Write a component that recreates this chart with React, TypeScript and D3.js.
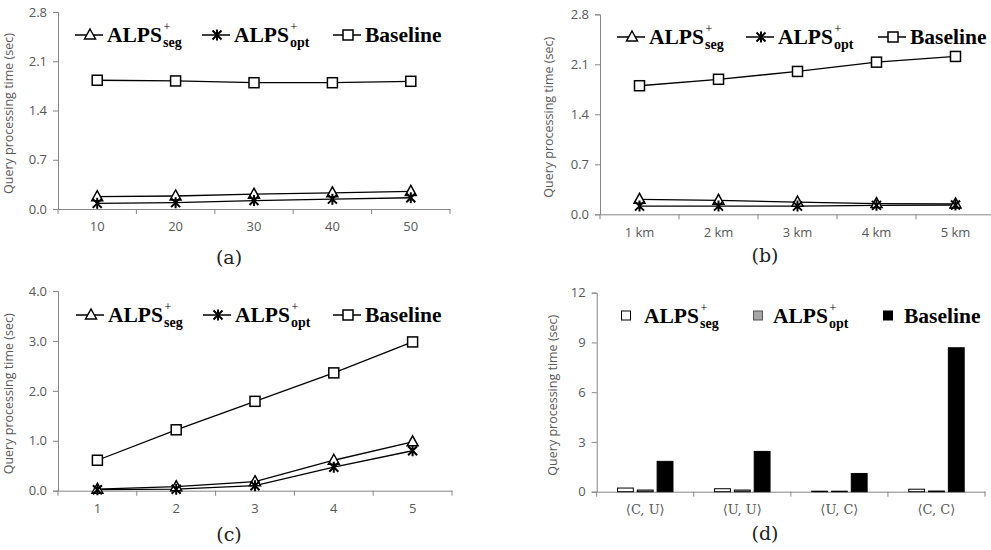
import * as d3 from 'd3'
import { useEffect, useRef } from 'react'

// panel (a): number of objects
const catsA = ['10', '20', '30', '40', '50']
const segA = [0.175, 0.185, 0.21, 0.23, 0.25]
const optA = [0.08, 0.09, 0.12, 0.14, 0.16]
const baseA = [1.83, 1.82, 1.795, 1.795, 1.815]
const ticksA = [0, 0.7, 1.4, 2.1, 2.8]

// panel (b): distance
const catsB = ['1 km', '2 km', '3 km', '4 km', '5 km']
const segB = [0.21, 0.196, 0.17, 0.15, 0.145]
const optB = [0.115, 0.115, 0.115, 0.125, 0.13]
const baseB = [1.8, 1.89, 2.0, 2.13, 2.21]
const ticksB = [0, 0.7, 1.4, 2.1, 2.8]

// panel (c)
const catsC = ['1', '2', '3', '4', '5']
const segC = [0.03, 0.08, 0.18, 0.61, 0.98]
const optC = [0.02, 0.03, 0.1, 0.47, 0.8]
const baseC = [0.61, 1.22, 1.79, 2.36, 2.98]
const ticksC = [0, 1, 2, 3, 4]

// panel (d): distributions
const catsD = ['\u27E8C, U\u27E9', '\u27E8U, U\u27E9', '\u27E8U, C\u27E9', '\u27E8C, C\u27E9']
const segD = [0.22, 0.18, 0.03, 0.15]
const optD = [0.1, 0.1, 0.03, 0.04]
const baseD = [1.83, 2.43, 1.1, 8.68]
const ticksD = [0, 3, 6, 9, 12]

const axisColor = '#868686'
const labelColor = '#595959'
const tickFont = '"Open Sans", sans-serif'
const legendFont = '"Liberation Serif", serif'

type Sel = d3.Selection<SVGGElement, unknown, null, undefined>

function drawAxes(g: Sel, cats: string[], ticks: number[], fmt: (v: number) => string,
  x0: number, x1: number, yTop: number, yBot: number, labelX: number, catFont = tickFont) {
  const x = d3.scaleBand<string>().domain(cats).range([x0, x1])
  const y = d3.scaleLinear().domain([ticks[0], ticks[ticks.length - 1]]).range([yBot, yTop])

  const yAxis = g.append('g').attr('transform', `translate(${x0},0)`)
    .call(d3.axisLeft(y).tickValues(ticks).tickFormat(d => fmt(+d)).tickSizeOuter(0).tickSize(5).tickPadding(6))
  const xAxis = g.append('g').attr('transform', `translate(0,${yBot})`)
    .call(d3.axisBottom(x).tickSize(0).tickPadding(13))
  // ticks at band boundaries
  const edges = cats.map(c => x(c) as number).concat([x1])
  xAxis.selectAll('line.edge').data(edges).join('line').attr('class', 'edge')
    .attr('x1', d => d).attr('x2', d => d).attr('y1', 0).attr('y2', 5)
  for (const a of [yAxis, xAxis]) {
    a.selectAll('path.domain').attr('stroke', axisColor)
    a.selectAll('line').attr('stroke', axisColor)
    a.selectAll('text').attr('fill', labelColor).attr('font-family', tickFont).attr('font-size', 13)
  }
  xAxis.selectAll('.tick text').attr('font-family', catFont)
  const yc = (yTop + yBot) / 2 + 3
  g.append('text').attr('transform', `translate(${labelX},${yc}) rotate(-90)`)
    .attr('text-anchor', 'middle').attr('font-family', tickFont).attr('font-size', 12.5)
    .attr('fill', labelColor).text('Query processing time (sec)')
  return { x, y }
}

function marker(g: Sel, kind: string, cx: number, cy: number) {
  if (kind === 'tri') {
    g.append('path').attr('d', `M${cx},${cy - 6}L${cx + 5.5},${cy + 4}L${cx - 5.5},${cy + 4}Z`)
      .attr('fill', 'white').attr('stroke', 'black').attr('stroke-width', 1.5)
  } else if (kind === 'sq') {
    g.append('rect').attr('x', cx - 5).attr('y', cy - 5).attr('width', 10).attr('height', 10)
      .attr('fill', 'white').attr('stroke', 'black').attr('stroke-width', 1.5)
  } else {
    const r = 4.5
    g.append('path').attr('d', `M${cx - r},${cy - r}L${cx + r},${cy + r}M${cx + r},${cy - r}L${cx - r},${cy + r}M${cx},${cy - r - 1}L${cx},${cy + r + 1}`)
      .attr('stroke', 'black').attr('stroke-width', 2).attr('fill', 'none')
  }
}

// main label with stacked "+" superscript and subscript
function legendText(g: Sel, tx: number, ty: number, main: string, sub?: string) {
  const t = g.append('text').attr('x', tx).attr('y', ty).attr('font-family', legendFont)
    .attr('font-weight', 'bold').attr('font-size', 21.5).attr('fill', 'black').text(main)
  if (!sub) return
  const w = (t.node() as SVGTextElement).getComputedTextLength()
  g.append('text').attr('x', tx + w + 1.5).attr('y', ty - 11).attr('font-family', legendFont)
    .attr('font-size', 12).text('+')
  g.append('text').attr('x', tx + w + 1).attr('y', ty + 5).attr('font-family', legendFont)
    .attr('font-weight', 'bold').attr('font-size', 14).text(sub)
}

function drawLinePanel(g: Sel, cats: string[], seg: number[], opt: number[], base: number[],
  ticks: number[], fmt: (v: number) => string, x0: number, x1: number, yTop: number, yBot: number,
  labelX: number, legendX: number[], legendY: number) {
  const { x, y } = drawAxes(g, cats, ticks, fmt, x0, x1, yTop, yBot, labelX)
  const cx = (c: string) => (x(c) as number) + x.bandwidth() / 2
  const line = d3.line<number>().x((_, i) => cx(cats[i])).y(d => y(d))
  const series = [{ v: base, k: 'sq' }, { v: seg, k: 'tri' }, { v: opt, k: 'star' }]
  for (const s of series) {
    g.append('path').datum(s.v).attr('d', line).attr('fill', 'none').attr('stroke', 'black').attr('stroke-width', 1.3)
  }
  for (const s of series) s.v.forEach((v, i) => marker(g, s.k, cx(cats[i]), y(v)))

  const items = [{ k: 'tri', m: 'ALPS', s: 'seg' }, { k: 'star', m: 'ALPS', s: 'opt' }, { k: 'sq', m: 'Baseline' }]
  items.forEach((it, i) => {
    const lx = legendX[i]
    const ly = legendY - 7
    g.append('line').attr('x1', lx).attr('x2', lx + 28).attr('y1', ly).attr('y2', ly).attr('stroke', 'black').attr('stroke-width', 1.5)
    marker(g, it.k, lx + 15, ly)
    legendText(g, lx + 32, legendY, it.m, it.s)
  })
}

function drawBarPanel(g: Sel) {
  const x0 = 596.7, x1 = 985, yTop = 292.7, yBot = 491.7
  const { x, y } = drawAxes(g, catsD, ticksD, d3.format('d'), x0, x1, yTop, yBot, 557,
    '"DejaVu Serif", serif')
  const inner = d3.scaleBand<string>().domain(['seg', 'opt', 'base']).range([0, x.bandwidth()])
    .paddingInner(0.2).paddingOuter(1.05)
  const series = [{ k: 'seg', v: segD, fill: 'white' }, { k: 'opt', v: optD, fill: '#a6a6a6' }, { k: 'base', v: baseD, fill: 'black' }]
  for (const s of series) {
    g.append('g').selectAll('rect').data(s.v).join('rect')
      .attr('x', (_, i) => (x(catsD[i]) as number) + (inner(s.k) as number))
      .attr('width', inner.bandwidth())
      .attr('y', d => y(d)).attr('height', d => yBot - y(d))
      .attr('fill', s.fill).attr('stroke', 'black').attr('stroke-width', 1)
  }
  const legendX = [626, 758, 888]
  const ly = 323
  series.forEach((s, i) => {
    g.append('rect').attr('x', legendX[i] - 4.5).attr('y', ly - 12).attr('width', 9).attr('height', 9)
      .attr('fill', s.fill).attr('stroke', s.k === 'opt' ? '#555' : 'black').attr('stroke-width', 1)
  })
  legendText(g, 644, ly, 'ALPS', 'seg')
  legendText(g, 773, ly, 'ALPS', 'opt')
  legendText(g, 904, ly, 'Baseline')
}

export default function App() {
  const ref = useRef<SVGSVGElement>(null)
  useEffect(() => {
    document.body.style.margin = '0'
    const svg = d3.select(ref.current as SVGSVGElement)
    svg.selectAll('*').remove()
    const root = svg.append('g') as unknown as Sel
    const f1 = d3.format('.1f')

    drawLinePanel(root.append('g'), catsA, segA, optA, baseA, ticksA, f1, 58, 450, 12, 209, 13, [75, 202, 333], 42)
    drawLinePanel(root.append('g'), catsB, segB, optB, baseB, ticksB, f1, 600, 995, 14.3, 214.3, 553, [617, 746, 878], 44)
    drawLinePanel(root.append('g'), catsC, segC, optC, baseC, ticksC, f1, 58, 452, 291, 490.7, 13, [76, 203, 333], 322)
    drawBarPanel(root.append('g'))

    const captions = [{ t: '(a)', x: 229, y: 264 }, { t: '(b)', x: 765, y: 262 }, { t: '(c)', x: 229, y: 541 }, { t: '(d)', x: 765, y: 540 }]
    root.selectAll('text.cap').data(captions).join('text').attr('class', 'cap')
      .attr('x', d => d.x).attr('y', d => d.y).attr('text-anchor', 'middle')
      .attr('font-family', '"DejaVu Serif", serif').attr('font-size', 19).attr('fill', '#222')
      .text(d => d.t)
  }, [])

  return <svg ref={ref} width={991} height={550} style={{ display: 'block', background: 'white' }} />
}
